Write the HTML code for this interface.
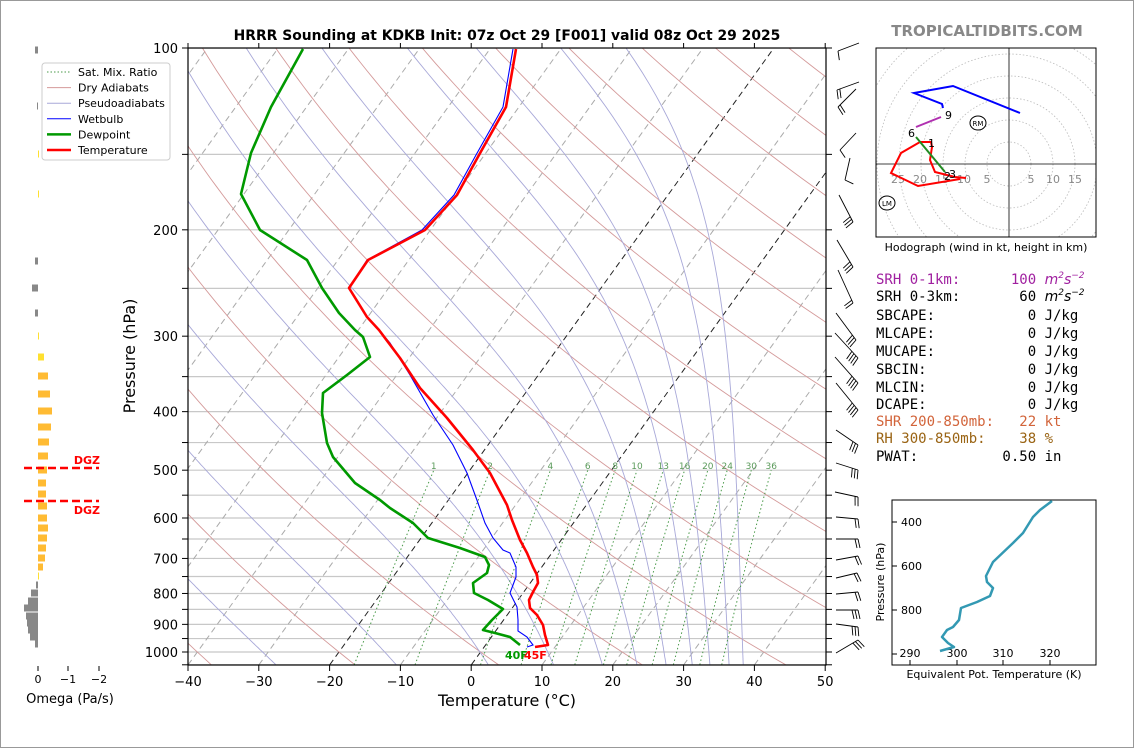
<!DOCTYPE html>
<html><head><meta charset="utf-8">
<style>
html,body{margin:0;padding:0;background:#fff;}
body{width:1134px;height:748px;overflow:hidden;position:relative;font-family:"DejaVu Sans","Liberation Sans",sans-serif;}
svg text{font-family:"DejaVu Sans","Liberation Sans",sans-serif;}
#frame{position:absolute;left:0;top:0;width:1132px;height:746px;border:1px solid #999;}
.mono{position:absolute;left:876px;font-family:"DejaVu Sans Mono","Liberation Mono",monospace;font-size:14px;white-space:pre;line-height:17px;}
.mono i{font-family:"DejaVu Sans","Liberation Sans",sans-serif;}
.mono sup{font-size:9px;vertical-align:6px;line-height:0;}
</style></head>
<body>
<div id="frame"></div>
<svg id="s" width="1134" height="748" style="position:absolute;left:0;top:0" xmlns="http://www.w3.org/2000/svg"></svg>
<div class="mono" style="top:272px;color:#a020a0">SRH 0-1km:      100 <i>m<sup>2</sup>s<sup>−2</sup></i></div>
<div class="mono" style="top:289px;color:#000">SRH 0-3km:       60 <i>m<sup>2</sup>s<sup>−2</sup></i></div>
<div class="mono" style="top:308px">SBCAPE:           0 J/kg</div>
<div class="mono" style="top:326px">MLCAPE:           0 J/kg</div>
<div class="mono" style="top:344px">MUCAPE:           0 J/kg</div>
<div class="mono" style="top:362px">SBCIN:            0 J/kg</div>
<div class="mono" style="top:380px">MLCIN:            0 J/kg</div>
<div class="mono" style="top:397px">DCAPE:            0 J/kg</div>
<div class="mono" style="top:414px;color:#d2643a">SHR 200-850mb:   22 kt</div>
<div class="mono" style="top:431px;color:#9a6414">RH 300-850mb:    38 %</div>
<div class="mono" style="top:449px">PWAT:          0.50 in</div>
<script>
var o=[];
function Y(p){return 652+604*Math.log10(p/1000);}
function X(T,p){return 188+(T+40)*7.08+0.72*(665-Y(p));}
function pl(pts,st){return '<polyline fill="none" points="'+pts.map(function(a){return a[0].toFixed(1)+','+a[1].toFixed(1)}).join(' ')+'" style="'+st+'"/>';}
function tx(x,y,t,st){return '<text x="'+x+'" y="'+y+'" style="'+st+'">'+t+'</text>';}
var ps=[];for(var i=0;i<=80;i++){ps.push(1050*Math.pow(100/1050,i/80));}
o.push('<defs><clipPath id="c"><rect x="188" y="48" width="638" height="617"/></clipPath><clipPath id="h"><rect x="876" y="48" width="220" height="189"/></clipPath></defs>');
o.push('<g clip-path="url(#c)">');
for(var p=100;p<=1050;p+=50){var y=Y(p);o.push('<line x1="188" x2="826" y1="'+y+'" y2="'+y+'" stroke="#c8c8c8" stroke-width="1.2"/>');}
for(var T=-130;T<=50;T+=10){var c=(T==-20||T==0)?'#222':'#aaa';o.push('<line x1="'+X(T,1050)+'" y1="'+Y(1050)+'" x2="'+X(T,100)+'" y2="48" stroke="'+c+'" stroke-width="1" stroke-dasharray="6,4"/>');}
for(var th=153.15;th<=533;th+=20){var a=ps.map(function(p){return [X(th*Math.pow(p/1000,0.286)-273.15,p),Y(p)]});o.push(pl(a,'stroke:#d49a9a;stroke-width:0.9'));}
function es(T){return 6.112*Math.exp(17.67*T/(T+243.5));}
[-27.6,-10.6,2.4,11.6,18.5,23.4,27.5,31.2,33.7,36.4,38.4].forEach(function(t0){
 var T=t0+273.15,p=1050,a=[[X(t0,p),Y(p)]];
 while(p>100){var dp=-5;var Tc=T-273.15;var rs=0.622*es(Tc)/(p-es(Tc));
  var dT=(1/p)*(287*T+2.5e6*rs)/(1005+2.5e6*2.5e6*rs*0.622/(287*T*T));T+=dT*dp;p+=dp;a.push([X(T-273.15,p),Y(p)]);}
 o.push(pl(a,'stroke:#a8a8d8;stroke-width:0.9'));});
[1,2,4,6,8,10,13,16,20,24,30,36].forEach(function(w){var a=[];for(var p=1050;p>=500;p-=10){var e=w*p/(622+w);var l=Math.log(e/6.112);var td=243.5*l/(17.67-l);a.push([X(td,p),Y(p)]);}
 o.push(pl(a,'stroke:#4a9a4a;stroke-width:1;stroke-dasharray:1.5,2.5'));var L=a[a.length-1];o.push(tx(L[0].toFixed(1),469,w,'font-size:9px;fill:#5a9a5a;text-anchor:middle'));});
var wb=[[513,49],[503,107],[476,155],[454,195],[422,230],[367,260],[349,288],[366,315],[390,343],[410,375],[433,415],[453,445],[467,473],[478,503],[485,523],[493,538],[503,550],[510,553],[516,567],[516,577],[510,593],[517,607],[518,620],[518,631],[527,637],[533,645],[527,647]];
var tt=[[516,49],[506,107],[479,155],[457,195],[425,230],[368,260],[349,288],[367,317],[379,330],[400,358],[420,388],[447,418],[473,450],[490,473],[507,505],[512,520],[520,540],[527,553],[533,567],[537,575],[538,583],[533,592],[529,600],[530,608],[537,615],[543,625],[545,635],[548,645],[535,647]];
var dd=[[303,49],[271,107],[251,153],[241,194],[260,230],[307,260],[322,288],[339,313],[355,330],[363,337],[370,357],[347,375],[323,393],[322,413],[327,443],[333,457],[355,483],[380,500],[390,508],[413,523],[428,538],[460,548],[485,557],[489,565],[487,573],[473,583],[474,593],[488,600],[503,609],[492,620],[483,630],[495,633],[510,637],[520,645]];
o.push(pl(wb,'stroke:#0000ff;stroke-width:1.1'));
o.push(pl(dd,'stroke:#009900;stroke-width:2.6;stroke-linejoin:round'));
o.push(pl(tt,'stroke:#ff0000;stroke-width:2.6;stroke-linejoin:round'));
o.push('</g>');
o.push(tx(505,659,'40F','font-size:11px;font-weight:bold;fill:#009900'));
o.push(tx(524,659,'45F','font-size:11px;font-weight:bold;fill:#ff0000'));
o.push('<rect x="188" y="48" width="638" height="617" fill="none" stroke="#000" stroke-width="1.2"/>');
for(var T=-40;T<=50;T+=10){var x=188+(T+40)*7.08;o.push('<line x1="'+x+'" x2="'+x+'" y1="665" y2="671" stroke="#000"/><line x1="'+x+'" x2="'+x+'" y1="48" y2="43" stroke="#000"/>');o.push(tx(x,686,(T<0?'−':'')+Math.abs(T),'font-size:13px;text-anchor:middle'));}
for(var p=100;p<=1050;p+=50){var y=Y(p);o.push('<line x1="182" x2="188" y1="'+y+'" y2="'+y+'" stroke="#000"/><line x1="826" x2="832" y1="'+y+'" y2="'+y+'" stroke="#000"/>');if(p%100==0)o.push(tx(178,y+5,p,'font-size:13px;text-anchor:end'));}
o.push(tx(507,706,'Temperature (°C)','font-size:16px;text-anchor:middle'));
o.push('<text transform="translate(135,356) rotate(-90)" style="font-size:16px;text-anchor:middle">Pressure (hPa)</text>');
o.push(tx(507,40,'HRRR Sounding at KDKB Init: 07z Oct 29 [F001] valid 08z Oct 29 2025','font-size:13.9px;font-weight:bold;text-anchor:middle'));
o.push(tx(987,36,'TROPICALTIDBITS.COM','font-size:15px;font-weight:bold;fill:#888;text-anchor:middle'));
o.push('<rect x="42" y="63" width="128" height="97" rx="3" fill="#fff" stroke="#ccc"/>');
var lg=[['Sat. Mix. Ratio','stroke:#4a9a4a;stroke-width:1;stroke-dasharray:1.5,2'],['Dry Adiabats','stroke:#d49a9a;stroke-width:1'],['Pseudoadiabats','stroke:#a8a8d8;stroke-width:1'],['Wetbulb','stroke:#0000ff;stroke-width:1'],['Dewpoint','stroke:#009900;stroke-width:2.5'],['Temperature','stroke:#ff0000;stroke-width:2.5']];
lg.forEach(function(l,i){var y=72+i*15.6;o.push('<line x1="47" x2="71" y1="'+y+'" y2="'+y+'" style="'+l[1]+'"/>');o.push(tx(78,y+4,l[0],'font-size:11px'));});
var om=[[50,-3,1],[106,-1,1],[154,0,1.5],[194,0,1.5],[261,-3,1],[288,-6,1],[313,-3,1],[336,0,1],[357,6,1],[376,10,2],[394,12,2],[411,14,2],[427,13,2],[442,11,2],[456,10,2],[470,9,2],[483,8,2],[494,8,2],[506,9,2],[518,9,2],[528,10,2],[538,9,2],[548,8,2],[558,7,2],[567,5,2],[576,1,1],[585,-2,1],[593,-7,1],[601,-10,1],[608,-14,1],[616,-12,1],[623,-11,1],[630,-10,1],[637,-8,1],[644,-3,1]];
om.forEach(function(b){var c=b[1]<0?'#888':(b[2]==2?'#ffbb33':'#ffe030');var x=b[1]<0?38+b[1]:38;var w=Math.max(Math.abs(b[1]),1);o.push('<rect x="'+x+'" y="'+(b[0]-3.5)+'" width="'+w+'" height="7" fill="'+c+'"/>');});
o.push('<line x1="24" x2="99" y1="468" y2="468" stroke="#f00" stroke-width="2.5" stroke-dasharray="8,4"/><line x1="24" x2="99" y1="501" y2="501" stroke="#f00" stroke-width="2.5" stroke-dasharray="8,4"/>');
o.push(tx(100,464,'DGZ','font-size:11px;font-weight:bold;fill:#f00;text-anchor:end'));
o.push(tx(100,514,'DGZ','font-size:11px;font-weight:bold;fill:#f00;text-anchor:end'));
[[38,'0'],[68,'−1'],[99,'−2']].forEach(function(t){o.push('<line x1="'+t[0]+'" x2="'+t[0]+'" y1="666" y2="671" stroke="#000"/>');o.push(tx(t[0],683,t[1],'font-size:11px;text-anchor:middle'));});
o.push(tx(70,703,'Omega (Pa/s)','font-size:13px;text-anchor:middle'));
var bb=[[859,43,838,51,1],[859,82,837,90,2],[856,89,838,107,2],[856,133,840,150,1],[850,158,845,180,1],[839,195,853,222,3],[837,240,853,267,3],[838,270,853,303,2],[836,313,856,340,3],[835,333,858,358,4],[835,357,858,383,4],[836,383,858,410,4],[836,430,858,445,3],[836,463,858,470,3],[835,492,858,497,2],[836,517,858,519,2],[836,539,858,539,2],[836,560,858,556,2],[836,578,857,573,2],[836,594,858,592,2],[836,610,858,610,3],[836,624,858,627,3],[836,653,858,640,3]];
bb.forEach(function(b){o.push('<line x1="'+b[0]+'" y1="'+b[1]+'" x2="'+b[2]+'" y2="'+b[3]+'" stroke="#000" stroke-width="0.9"/>');
 var dx=b[0]-b[2],dy=b[1]-b[3],L=Math.hypot(dx,dy);dx/=L;dy/=L;var nx=-dy,ny=dx;if(ny<0){nx=-nx;ny=-ny;}
 for(var k=0;k<b[4];k++){var sx=b[2]+dx*k*3,sy=b[3]+dy*k*3;o.push('<line x1="'+sx+'" y1="'+sy+'" x2="'+(sx+nx*9-dx*2)+'" y2="'+(sy+ny*9-dy*2)+'" stroke="#000" stroke-width="0.9"/>');}});
o.push('<g clip-path="url(#h)">');
for(var r=22;r<=200;r+=22)o.push('<circle cx="1009" cy="164" r="'+r+'" fill="none" stroke="#bbb" stroke-width="0.8" stroke-dasharray="1.5,2"/>');
o.push('<line x1="876" x2="1096" y1="164" y2="164" stroke="#000" stroke-width="0.8"/><line x1="1009" x2="1009" y1="48" y2="237" stroke="#000" stroke-width="0.8"/>');
[[898,'25'],[920,'20'],[942,'15'],[964,'10'],[987,'5'],[1031,'5'],[1053,'10'],[1075,'15']].forEach(function(t){o.push(tx(t[0],183,t[1],'font-size:11px;fill:#888;text-anchor:middle'));});
o.push(pl([[966,178],[955,177],[935,172],[930,160],[932,147],[931,142],[920,142],[901,153],[891,173],[918,186],[960,179]],'stroke:#f00;stroke-width:2'));
o.push(pl([[916,137],[945,172]],'stroke:#228b22;stroke-width:2'));
o.push(pl([[916,127],[941,117]],'stroke:#b030b0;stroke-width:2'));
o.push(pl([[943,108],[942,104],[914,93],[953,86],[1020,113]],'stroke:#0000ff;stroke-width:2'));
o.push('</g>');
o.push(tx(945,119,'9','font-size:11px'));o.push(tx(908,137,'6','font-size:11px'));o.push(tx(928,147,'1','font-size:11px'));o.push(tx(944,180,'2','font-size:11px'));o.push(tx(949,178,'3','font-size:11px'));
o.push('<ellipse cx="978" cy="123" rx="8" ry="7" fill="none" stroke="#000"/>'+tx(978,126,'RM','font-size:7px;text-anchor:middle'));
o.push('<ellipse cx="887" cy="203" rx="8" ry="7" fill="none" stroke="#000"/>'+tx(887,206,'LM','font-size:7px;text-anchor:middle'));
o.push('<rect x="876" y="48" width="220" height="189" fill="none" stroke="#000"/>');
o.push(tx(986,251,'Hodograph (wind in kt, height in km)','font-size:11px;text-anchor:middle'));
o.push('<rect x="892" y="500" width="204" height="165" fill="none" stroke="#000"/>');
[[522,'400'],[566,'600'],[610,'800'],[654,'']].forEach(function(t){o.push('<line x1="892" x2="897" y1="'+t[0]+'" y2="'+t[0]+'" stroke="#000"/>');o.push(tx(901,t[0]+4,t[1],'font-size:11px'));});
[[910,'290'],[957,'300'],[1003,'310'],[1050,'320']].forEach(function(t){o.push('<line x1="'+t[0]+'" x2="'+t[0]+'" y1="665" y2="660" stroke="#000"/>');o.push(tx(t[0],657,t[1],'font-size:11px;text-anchor:middle'));});
o.push(pl([[1052,501],[1040,510],[1033,517],[1023,533],[1013,543],[993,562],[986,576],[987,582],[993,588],[990,596],[977,602],[961,608],[959,620],[953,627],[947,630],[942,637],[948,643],[954,647],[940,651]],'stroke:#3399b3;stroke-width:2.5;stroke-linejoin:round'));
o.push(tx(994,678,'Equivalent Pot. Temperature (K)','font-size:11px;text-anchor:middle'));
o.push('<text transform="translate(884,582) rotate(-90)" style="font-size:11px;text-anchor:middle">Pressure (hPa)</text>');
document.getElementById('s').innerHTML=o.join('');
</script>
</body></html>
